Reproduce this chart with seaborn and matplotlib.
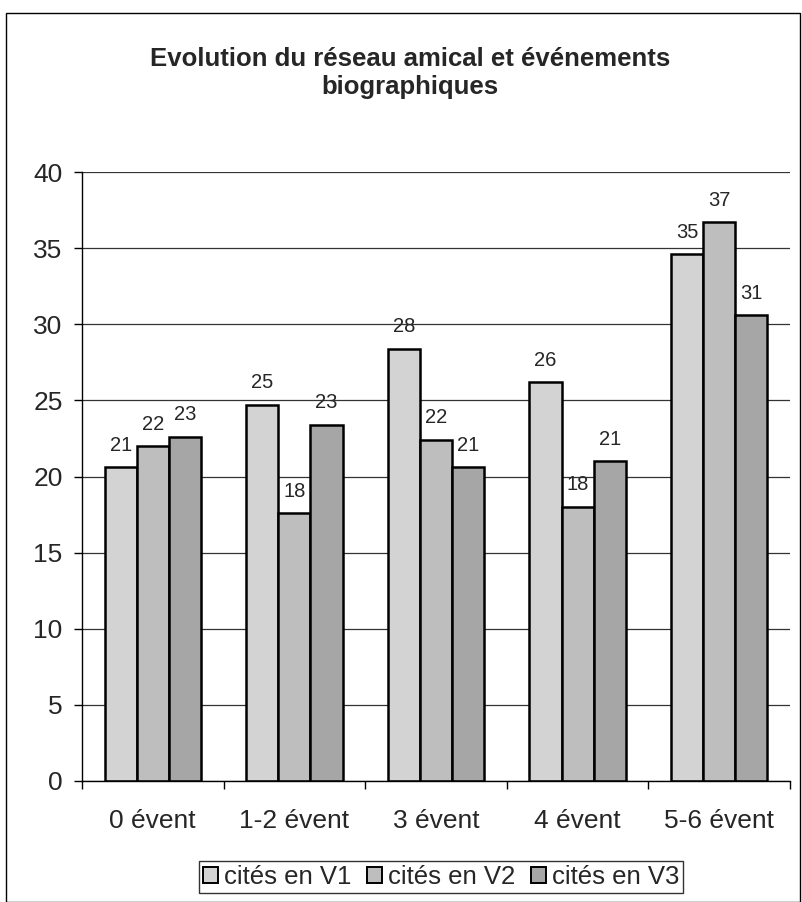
import numpy as np
import pandas as pd
import matplotlib.pyplot as plt
import seaborn as sns
from matplotlib.patches import Rectangle
from matplotlib.ticker import FixedLocator


categories = ["0 évent", "1-2 évent", "3 évent", "4 évent", "5-6 évent"]
series = ["cités en V1", "cités en V2", "cités en V3"]
v1 = [20.6, 24.7, 28.4, 26.2, 34.6]
v2 = [22.0, 17.6, 22.4, 18.0, 36.7]
v3 = [22.6, 23.4, 20.6, 21.0, 30.6]
colors = ["#d3d3d3", "#bebebe", "#a6a6a6"]

df = pd.DataFrame({
    "cat": categories * 3,
    "serie": np.repeat(series, len(categories)),
    "val": v1 + v2 + v3,
})

sns.set_style("white")
plt.rcParams["font.family"] = ["Liberation Sans", "DejaVu Sans"]

fig = plt.figure(figsize=(8.02, 9.02), dpi=100)
ax = fig.add_axes([82 / 802, 1 - 781 / 902, (790 - 82) / 802, (781 - 172) / 902])

sns.barplot(
    data=df, x="cat", y="val", hue="serie",
    palette=colors, saturation=1, width=0.68, gap=0,
    edgecolor="black", linewidth=1.8, ax=ax
)

# labels au-dessus des barres
for cont in ax.containers:
    ax.bar_label(cont, fmt="%.0f", padding=9, fontsize=14.5)

ax.set_xlim(-0.5, len(categories) - 0.5)
ax.set_ylim(0, 40)
ax.set_yticks(range(0, 41, 5))
ax.yaxis.grid(True, color="#333333", linewidth=0.9)
ax.set_axisbelow(True)
ax.set_xlabel("")
ax.set_ylabel("")

for side in ["top", "right"]:
    ax.spines[side].set_visible(False)
for side in ["left", "bottom"]:
    ax.spines[side].set_color("black")
    ax.spines[side].set_linewidth(1.0)

ax.tick_params(axis="y", direction="out", length=6, width=1, color="black",
               labelsize=19, pad=8, left=True)
ax.tick_params(axis="x", which="major", length=0, labelsize=19, pad=20)
ax.xaxis.set_minor_locator(FixedLocator(np.arange(-0.5, len(categories), 1)))
ax.tick_params(axis="x", which="minor", direction="out", length=6, width=1,
               color="black", bottom=True)

ax.get_legend().remove()
handles = [Rectangle((0, 0), 1, 1, facecolor=c, edgecolor="black", linewidth=1.4)
           for c in colors]
fig.legend(handles, series, loc="upper center",
           bbox_to_anchor=(441 / 802, 1 - 861 / 902), borderaxespad=0,
           ncol=3, frameon=True, fancybox=False, edgecolor="black",
           fontsize=18.5, handlelength=0.58, handleheight=0.58,
           handletextpad=0.23, columnspacing=0.62, borderpad=0.15)

fig.text(0.511, 1 - 73 / 902, "Evolution du réseau amical et événements\nbiographiques",
         ha="center", va="center", fontsize=18.5, fontweight="bold", linespacing=1.2)

fig.add_artist(Rectangle((0.008, 0.0), 0.99, 0.986, transform=fig.transFigure,
                         fill=False, edgecolor="black", linewidth=1.0))

plt.savefig("out.png", dpi=100)
